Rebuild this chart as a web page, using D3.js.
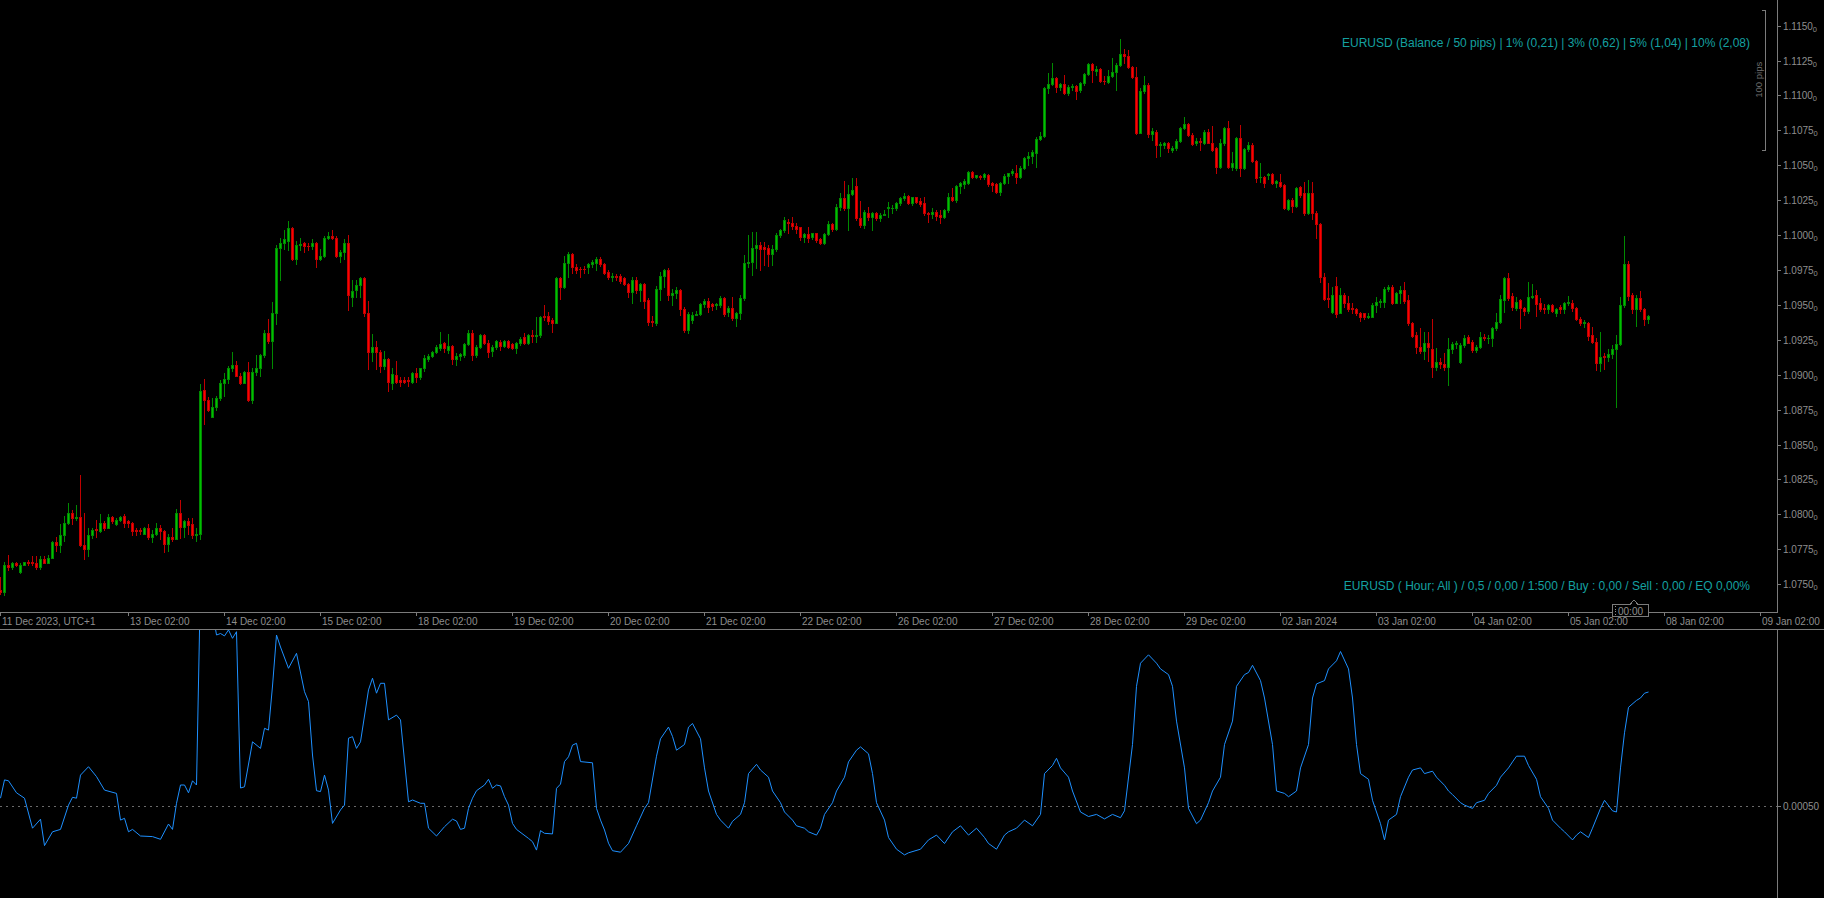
<!DOCTYPE html>
<html><head><meta charset="utf-8">
<script src="https://cdn.jsdelivr.net/npm/d3@7"></script>
<style>
html,body{margin:0;padding:0;background:#000;overflow:hidden}
svg{display:block}
text{font-family:"Liberation Sans",Arial,sans-serif}
</style></head><body>
<svg id="c" width="1824" height="898"></svg>
<script>
// ---------- DATA (EURUSD H1, bar 0 = 11 Dec 2023 18:00) ----------
const opens = [1.0746,1.0744,1.0764,1.0762,1.0765,1.0759,1.0764,1.0766,1.0766,1.0765,1.0762,1.0768,1.0765,1.0769,1.0780,1.0778,1.0785,1.0794,1.0801,1.0797,
1.0798,1.0778,1.0775,1.0785,1.07892,1.0788,1.0794,1.0790,1.0798,1.0793,1.0796,1.0799,1.0795,1.0794,1.0789,1.0789,1.0786,1.0790,1.0784,1.0786,
1.0790,1.0788,1.0779,1.0784,1.0782,1.0801,1.0791,1.0795,1.0793,1.0785,1.0786,1.0889,1.0882,1.0870,1.0877,1.0883,1.0894,1.0897,1.0905,1.0907,
1.0899,1.0894,1.0902,1.0882,1.0902,1.0905,1.0914,1.0930,1.0924,1.0944,1.0991,1.0994,1.0996,1.1005,1.0983,1.0993,1.0994,1.09923,1.0992,1.0994,
1.0983,1.0985,1.0998,1.0999,1.0998,1.0985,1.0988,1.0994,1.0956,1.0961,1.0964,1.0969,1.0944,1.0916,1.0920,1.0916,1.0906,1.0911,1.0894,1.0900,
1.0896,1.0896,1.0896,1.0895,1.0901,1.0898,1.09045,1.09115,1.09134,1.0916,1.0919,1.09225,1.0918,1.09205,1.0911,1.09134,1.09141,1.09217,1.0930,1.0914,
1.09196,1.09282,1.0923,1.09172,1.09196,1.09237,1.09205,1.09241,1.09217,1.09189,1.09225,1.09267,1.09229,1.09282,1.09277,1.09282,1.09418,1.0942,1.0939,1.09373,
1.0969,1.09626,1.09798,1.09865,1.09774,1.09759,1.09759,1.09769,1.0979,1.09803,1.09831,1.09793,1.09736,1.09702,1.0971,1.09709,1.09695,1.09652,1.09595,1.09678,
1.09607,1.09647,1.09535,1.09385,1.09373,1.09611,1.09707,1.0975,1.09569,1.09588,1.09607,1.09468,1.0932,1.0939,1.0943,1.09435,1.09504,1.09528,1.09504,1.0950,
1.0950,1.09552,1.09452,1.09475,1.09404,1.0944,1.09547,1.09798,1.0981,1.0991,1.09929,1.09917,1.0991,1.09865,1.09898,1.10001,1.10036,1.10092,1.10084,1.10065,
1.10056,1.09984,1.10008,1.09984,1.10013,1.0997,1.09941,1.10008,1.1008,1.10044,1.10204,1.10263,1.10192,1.10294,1.10352,1.1012,1.10072,1.1016,1.10132,1.10156,
1.10125,1.10144,1.10192,1.10192,1.10192,1.10227,1.10263,1.10282,1.10227,1.1027,1.10244,1.10227,1.10156,1.10149,1.10168,1.10144,1.10132,1.1018,1.10275,1.1025,
1.10352,1.10366,1.1037,1.10449,1.10418,1.10423,1.10413,1.10428,1.10376,1.10366,1.10311,1.10371,1.10425,1.10442,1.10447,1.10413,1.10483,1.1055,1.10566,1.1059,
1.10686,1.1071,1.11051,1.1108,1.11128,1.11058,1.1108,1.1102,1.11058,1.11068,1.11039,1.11087,1.11154,1.11225,1.11178,1.11187,1.11104,1.11099,1.1114,1.11171,
1.11218,1.11297,1.11283,1.11202,1.1113,1.10733,1.11032,1.11075,1.10724,1.10741,1.10645,1.10645,1.10662,1.1061,1.10621,1.10676,1.10765,1.10793,1.10717,1.10657,
1.10674,1.10662,1.10741,1.10662,1.10621,1.1049,1.10657,1.10765,1.10485,1.1048,1.10693,1.1048,1.10614,1.10645,1.10533,1.10414,1.10414,1.10428,1.10438,1.10371,
1.10383,1.10359,1.10185,1.10251,1.10208,1.10342,1.10299,1.10156,1.10299,1.1016,1.1008,1.09698,1.09547,1.09452,1.09635,1.09444,1.09571,1.09511,1.09475,1.09468,
1.0944,1.09439,1.09411,1.09416,1.09499,1.09523,1.09523,1.09611,1.0963,1.09516,1.09583,1.09607,1.09535,1.09368,1.09284,1.09196,1.09172,1.09229,1.09182,1.09053,
1.09093,1.09077,1.09053,1.09182,1.09218,1.09093,1.09213,1.09273,1.09237,1.09177,1.09196,1.09272,1.09261,1.09261,1.09332,1.0938,1.09535,1.0969,1.09564,1.09475,
1.09535,1.0948,1.09459,1.09559,1.09571,1.09511,1.09475,1.09471,1.09499,1.09444,1.09487,1.09468,1.09516,1.09516,1.09475,1.09397,1.09373,1.09373,1.09284,1.09237,
1.09081,1.09134,1.09129,1.09148,1.09182,1.0922,1.09499,1.09793,1.09571,1.09468,1.09547,1.09468,1.09397];
const highs = [1.0755,1.0766,1.0771,1.0766,1.0766,1.0765,1.0766,1.0767,1.0770,1.0770,1.0770,1.0770,1.0771,1.0781,1.0784,1.0793,1.0799,1.0808,1.0803,1.0807,
1.0828,1.0801,1.0790,1.0790,1.0796,1.0800,1.0795,1.0800,1.0799,1.0797,1.0799,1.0800,1.0796,1.07945,1.0790,1.0790,1.0791,1.0793,1.0789,1.0794,
1.0792,1.0789,1.0786,1.0790,1.0804,1.0810,1.0796,1.0797,1.0797,1.0790,1.0893,1.0897,1.0884,1.0883,1.0885,1.0896,1.0901,1.0906,1.0916,1.0910,
1.0901,1.0903,1.0909,1.0905,1.0914,1.0915,1.0932,1.0940,1.0952,1.0993,1.0998,1.1004,1.1010,1.1006,1.0996,1.0998,1.0995,1.0994,1.0997,1.0995,
1.0990,1.0999,1.1002,1.1004,1.0999,1.0989,1.0997,1.1000,1.0968,1.0968,1.0970,1.0970,1.0953,1.0929,1.0924,1.0918,1.0917,1.0912,1.09045,1.0910,
1.0898,1.0898,1.0898,1.0902,1.09045,1.0905,1.0914,1.09148,1.09172,1.09213,1.09303,1.09237,1.0929,1.09213,1.09153,1.09158,1.09225,1.0932,1.0932,1.09213,
1.0929,1.0929,1.09248,1.09213,1.09248,1.09248,1.09248,1.09248,1.09229,1.09237,1.09272,1.09296,1.09291,1.0932,1.09416,1.0942,1.09499,1.09451,1.09404,1.09702,
1.09697,1.0985,1.09879,1.09874,1.09793,1.09769,1.09779,1.09798,1.09822,1.09845,1.09845,1.09802,1.0975,1.09731,1.09721,1.09721,1.09702,1.09659,1.09697,1.09697,
1.09659,1.09659,1.09547,1.0942,1.09635,1.09738,1.0976,1.09762,1.09611,1.09626,1.09614,1.09487,1.0945,1.0945,1.09459,1.09511,1.0954,1.09547,1.09511,1.09511,
1.09564,1.09559,1.09492,1.09554,1.09452,1.09571,1.09857,1.10001,1.10025,1.10025,1.09953,1.09953,1.09929,1.09929,1.10013,1.10041,1.10127,1.10113,1.10132,1.10084,
1.1006,1.10017,1.10056,1.10017,1.10017,1.09977,1.10017,1.101,1.1009,1.10225,1.10299,1.10387,1.10359,1.10406,1.10406,1.10246,1.1018,1.10203,1.10168,1.10168,
1.1016,1.10179,1.10239,1.10215,1.1024,1.10275,1.10299,1.10287,1.10275,1.10275,1.10263,1.10275,1.10168,1.10192,1.1018,1.1018,1.10185,1.10299,1.10335,1.10359,
1.10383,1.10399,1.10461,1.10461,1.10433,1.10428,1.10447,1.10435,1.10383,1.10371,1.10383,1.10438,1.10447,1.10471,1.10502,1.10495,1.10562,1.10598,1.10609,1.107,
1.10741,1.11058,1.11163,1.1123,1.11135,1.11087,1.11147,1.11075,1.1108,1.11075,1.11099,1.11163,1.1123,1.11235,1.11211,1.11194,1.1114,1.11182,1.11266,1.1123,
1.11402,1.11331,1.11326,1.11211,1.11206,1.11051,1.1114,1.11087,1.10765,1.10753,1.10669,1.10669,1.10669,1.10638,1.10686,1.10777,1.10843,1.108,1.10729,1.10693,
1.10693,1.10753,1.10758,1.10781,1.10633,1.10686,1.10777,1.1082,1.10598,1.10705,1.10788,1.10621,1.10669,1.10657,1.1054,1.10514,1.10423,1.10442,1.10447,1.10395,
1.10438,1.10366,1.10256,1.10263,1.10342,1.10352,1.10383,1.10395,1.10383,1.10175,1.10084,1.09726,1.09655,1.0963,1.09698,1.09619,1.09583,1.09564,1.09511,1.09475,
1.09452,1.09444,1.09444,1.09511,1.09559,1.0954,1.0963,1.09643,1.09643,1.09595,1.09635,1.09666,1.09571,1.0938,1.09308,1.09332,1.09308,1.09308,1.09397,1.09189,
1.09117,1.09153,1.0926,1.09237,1.09244,1.09225,1.09284,1.09284,1.09248,1.09213,1.09308,1.09291,1.09284,1.09344,1.09439,1.09571,1.09702,1.09726,1.09583,1.09559,
1.0954,1.09487,1.09666,1.0965,1.09607,1.09547,1.09506,1.09506,1.09506,1.09475,1.09499,1.09523,1.09564,1.09535,1.09487,1.09416,1.09392,1.0938,1.09339,1.09261,
1.09308,1.09153,1.09182,1.09213,1.09284,1.09559,1.09994,1.09817,1.09583,1.09571,1.09602,1.09475,1.09428];
const lows = [1.0743,1.0742,1.0760,1.0761,1.0763,1.0758,1.0764,1.0764,1.0764,1.0761,1.0761,1.0765,1.0765,1.0769,1.0774,1.0773,1.0781,1.0793,1.0793,1.0796,
1.0777,1.0768,1.0770,1.0783,1.0784,1.0787,1.0789,1.0790,1.0794,1.0792,1.0795,1.0791,1.0791,1.0785,1.0785,1.0786,1.0786,1.0782,1.0780,1.0785,
1.0782,1.0773,1.0774,1.0781,1.0782,1.0783,1.0784,1.0786,1.0783,1.0781,1.0782,1.0865,1.0874,1.0870,1.0875,1.0882,1.0885,1.0894,1.0903,1.0899,
1.0893,1.0894,1.0881,1.0880,1.0900,1.0899,1.0913,1.0923,1.0905,1.0936,1.0968,1.0990,1.0989,1.0982,1.0979,1.0989,1.0988,1.0989,1.0990,1.0977,
1.0982,1.0984,1.0997,1.0997,1.0984,1.0981,1.0983,1.0946,1.0949,1.0956,1.0956,1.0942,1.0904,1.0910,1.0904,1.0902,1.0904,1.08886,1.0890,1.0894,
1.0892,1.0894,1.0892,1.0894,1.0895,1.0897,1.0903,1.0910,1.09129,1.09153,1.09177,1.0916,1.09158,1.0908,1.0907,1.09105,1.09129,1.09213,1.09105,1.0913,
1.0919,1.0922,1.0913,1.09134,1.09184,1.0918,1.09196,1.0919,1.09182,1.09153,1.09213,1.0922,1.0922,1.09237,1.09237,1.09272,1.09392,1.09363,1.09308,1.09368,
1.0954,1.09619,1.09697,1.09726,1.09731,1.09697,1.09726,1.09731,1.09774,1.0975,1.09779,1.09721,1.09683,1.09674,1.09678,1.09659,1.09642,1.09559,1.09511,1.09583,
1.09528,1.09475,1.09356,1.09349,1.09356,1.09535,1.0963,1.09535,1.095,1.09547,1.09428,1.09308,1.09301,1.09373,1.09428,1.09428,1.09483,1.09452,1.09463,1.09468,
1.09487,1.0942,1.0942,1.09392,1.09349,1.09397,1.09535,1.09769,1.09714,1.09762,1.0975,1.09786,1.09779,1.09786,1.09888,1.09989,1.10025,1.10013,1.10041,1.10013,
1.09965,1.09953,1.09953,1.0997,1.09953,1.09936,1.09936,1.10001,1.10032,1.10036,1.1018,1.1018,1.10036,1.10287,1.10108,1.1006,1.10048,1.10108,1.1004,1.10108,
1.10101,1.10144,1.10127,1.1016,1.1018,1.10215,1.10251,1.10223,1.10215,1.10227,1.10208,1.10144,1.10096,1.1012,1.10108,1.10089,1.1012,1.10168,1.10246,1.1024,
1.10299,1.10335,1.10366,1.10406,1.10406,1.10399,1.10399,1.10352,1.10318,1.10299,1.10287,1.10366,1.10371,1.1043,1.10371,1.10406,1.10471,1.10502,1.10514,1.1049,
1.10681,1.10705,1.11015,1.11075,1.11027,1.11039,1.1101,1.11003,1.11039,1.10975,1.11027,1.11075,1.11147,1.11099,1.11147,1.11099,1.11082,1.11087,1.11135,1.11039,
1.11211,1.1123,1.11194,1.11123,1.10724,1.10729,1.11015,1.10705,1.10681,1.10557,1.10566,1.10621,1.10598,1.10598,1.10609,1.10669,1.10758,1.1071,1.10645,1.10645,
1.10609,1.10652,1.10657,1.10605,1.10447,1.10478,1.10645,1.10478,1.10466,1.10466,1.10423,1.10471,1.10605,1.10526,1.10383,1.10383,1.10342,1.10403,1.10366,1.10347,
1.10347,1.10185,1.1018,1.10168,1.10204,1.1027,1.10144,1.10151,1.10113,1.09977,1.09666,1.09535,1.09487,1.09444,1.09416,1.09439,1.09487,1.09459,1.09439,1.09428,
1.09387,1.09397,1.09404,1.09411,1.09452,1.09487,1.09487,1.09602,1.09506,1.09511,1.09511,1.09516,1.09356,1.09272,1.09158,1.09153,1.0911,1.091,1.08981,1.09034,
1.09046,1.09034,1.08926,1.09158,1.09189,1.09086,1.09201,1.09225,1.09165,1.09165,1.09189,1.09248,1.09229,1.09206,1.0932,1.09368,1.09452,1.09535,1.09463,1.09463,
1.09332,1.09428,1.09439,1.09547,1.0942,1.09459,1.0944,1.0944,1.09452,1.09421,1.09439,1.09444,1.095,1.09459,1.09392,1.09356,1.09344,1.09249,1.09225,1.09034,
1.09029,1.09039,1.09101,1.09117,1.08771,1.09213,1.09487,1.09535,1.0944,1.09349,1.09459,1.09356,1.09373];
const closes = [1.0744,1.0764,1.0762,1.0765,1.0764,1.0764,1.0766,1.0765,1.0765,1.0762,1.0768,1.0765,1.0769,1.0780,1.0778,1.0785,1.0794,1.0801,1.0797,1.0798,
1.0778,1.0775,1.0785,1.0789,1.07888,1.0794,1.0790,1.0798,1.0795,1.0796,1.0798,1.0794,1.0794,1.0788,1.0788,1.0788,1.0790,1.0784,1.0786,1.0790,
1.0788,1.0779,1.0784,1.0782,1.0801,1.0791,1.0795,1.0792,1.0785,1.0786,1.0888,1.0882,1.0875,1.0877,1.0883,1.0894,1.0897,1.0905,1.0907,1.0899,
1.0894,1.0902,1.0882,1.0902,1.0905,1.0914,1.0930,1.0924,1.0944,1.0991,1.0994,1.0997,1.1005,1.0983,1.0993,1.09933,1.0992,1.09920,1.0994,1.0983,
1.0985,1.0998,1.0999,1.0998,1.0985,1.0988,1.0994,1.0957,1.0960,1.0964,1.0969,1.0944,1.09165,1.0920,1.0916,1.0906,1.0911,1.08945,1.09005,1.08945,
1.08945,1.0895,1.08955,1.09014,1.0898,1.09045,1.09117,1.09134,1.0916,1.09196,1.0922,1.09189,1.09205,1.0911,1.09134,1.09148,1.09217,1.09296,1.09141,1.09196,
1.09282,1.0923,1.09165,1.09201,1.09244,1.09205,1.09241,1.09201,1.09189,1.09225,1.09258,1.09229,1.09282,1.09277,1.09282,1.09411,1.09412,1.09387,1.09373,1.0969,
1.09626,1.09798,1.09865,1.09774,1.0975,1.09755,1.09755,1.0979,1.0981,1.09831,1.09793,1.09731,1.09702,1.09706,1.09702,1.09674,1.09652,1.09595,1.09678,1.09607,
1.09647,1.0953,1.0938,1.09375,1.09611,1.09707,1.0975,1.09569,1.09588,1.09607,1.09468,1.0932,1.09432,1.0943,1.09435,1.09504,1.09528,1.09487,1.09492,1.09504,
1.09552,1.09435,1.09475,1.09404,1.0944,1.09547,1.09802,1.09809,1.0991,1.09929,1.09898,1.09898,1.09865,1.09898,1.10001,1.10036,1.10108,1.10084,1.10065,1.10044,
1.09984,1.10008,1.09977,1.10013,1.09965,1.09941,1.10008,1.1008,1.10044,1.10204,1.10263,1.10192,1.10294,1.10323,1.1012,1.10072,1.10168,1.10132,1.10156,1.1012,
1.10144,1.10151,1.10198,1.10196,1.10227,1.10263,1.10282,1.10227,1.1027,1.1024,1.1022,1.10156,1.10149,1.10168,1.10139,1.10132,1.1018,1.10275,1.10251,1.10352,
1.10371,1.1039,1.10449,1.10418,1.10428,1.10416,1.10435,1.10366,1.10359,1.10311,1.10371,1.10425,1.10442,1.10459,1.10413,1.10483,1.1055,1.10566,1.10598,1.10688,
1.1071,1.11051,1.1108,1.11128,1.11058,1.1108,1.1102,1.11063,1.11068,1.11034,1.11087,1.11154,1.11223,1.11182,1.11187,1.11106,1.11102,1.1114,1.11171,1.11218,
1.11297,1.11283,1.11202,1.1113,1.10733,1.11032,1.11075,1.10724,1.10748,1.10645,1.10649,1.10657,1.10621,1.10626,1.10676,1.10765,1.10793,1.10717,1.10652,1.10674,
1.10669,1.10741,1.10662,1.10609,1.1049,1.10657,1.10765,1.10485,1.10519,1.10693,1.1048,1.10614,1.10645,1.10533,1.10407,1.10419,1.10371,1.10435,1.10371,1.10388,
1.10352,1.10192,1.10251,1.10208,1.10335,1.10287,1.10156,1.10299,1.10156,1.1008,1.09698,1.0954,1.0954,1.09571,1.09435,1.09571,1.09511,1.09468,1.09468,1.0944,
1.09416,1.09411,1.09421,1.09499,1.09523,1.09529,1.09611,1.0963,1.09516,1.09588,1.09607,1.0953,1.09368,1.09277,1.09196,1.09172,1.09229,1.09196,1.09053,1.09093,
1.09077,1.09053,1.09182,1.0922,1.09225,1.09213,1.09261,1.0923,1.09177,1.09201,1.09268,1.09266,1.09266,1.09332,1.0938,1.0954,1.0969,1.09547,1.09483,1.09523,
1.09475,1.09459,1.09559,1.09564,1.09506,1.09471,1.09468,1.09499,1.09459,1.09468,1.09468,1.09516,1.09521,1.09475,1.09397,1.09368,1.09378,1.09277,1.09237,1.09081,
1.09129,1.09124,1.09148,1.09182,1.0922,1.09499,1.09793,1.09564,1.09468,1.09547,1.09468,1.09397,1.09421];

// lower indicator window: vertices of the blue line as [bar index, value]
const indicatorPoints = [[0,0.000526],[1,0.000587],[2,0.000584],[4,0.000544],[6,0.000526],[8,0.000426],[10,0.000456],[11,0.000368],[13,0.000414],[15,0.000422],
[17,0.000503],[18,0.000529],[19,0.000526],[20,0.000603],[22,0.000631],[24,0.000598],[26,0.000553],[29,0.000542],[30,0.000453],[31,0.000459],
[32,0.000414],[33,0.000422],[35,0.000400],[38,0.000398],[40,0.000389],[42,0.000440],[43,0.000422],[44,0.000509],[45,0.000570],[46,0.000570],
[47,0.000544],[48,0.000584],[49,0.000570],[50,0.001250],[51,0.001260],[52,0.001220],[53,0.001150],[54,0.001070],[55,0.001075],[56,0.001067],
[57,0.001087],[58,0.001059],[59,0.001081],[60,0.000560],[61,0.000564],[63,0.000714],[65,0.000692],[66,0.000759],[67,0.000753],[68,0.000900],
[69,0.001070],[70,0.001030],[72,0.000959],[74,0.001009],[76,0.000881],[77,0.000848],[78,0.000670],[79,0.000551],[80,0.000548],[81,0.000603],
[82,0.000553],[83,0.000442],[85,0.000487],[86,0.000503],[87,0.000726],[88,0.000731],[89,0.000692],[90,0.000714],[92,0.000887],[93,0.000926],
[94,0.000876],[95,0.000909],[96,0.000909],[97,0.000787],[99,0.000803],[100,0.000787],[102,0.000514],[103,0.000520],[105,0.000509],[106,0.000509],
[107,0.000426],[109,0.000400],[111,0.000431],[113,0.000456],[114,0.000450],[115,0.000422],[116,0.000426],[117,0.000492],[118,0.000526],[119,0.000551],
[121,0.000570],[122,0.000589],[123,0.000559],[124,0.000570],[125,0.000567],[126,0.000531],[127,0.000503],[128,0.000442],[129,0.000422],[132,0.000392],
[133,0.000381],[134,0.000353],[135,0.000418],[136,0.000409],[138,0.000407],[139,0.000559],[140,0.000573],[141,0.000648],[142,0.000664],[143,0.000703],
[144,0.000709],[145,0.000648],[148,0.000644],[149,0.000492],[150,0.000453],[151,0.000420],[152,0.000376],[153,0.000351],[155,0.000346],
[157,0.000375],[159,0.000434],[161,0.000492],[162,0.000511],[164,0.000666],[165,0.000724],[167,0.000763],[168,0.000732],[169,0.000686],[171,0.000705],
[172,0.000763],[173,0.000775],[175,0.000724],[176,0.000627],[177,0.000550],[179,0.000472],[180,0.000453],[182,0.000426],[183,0.000449],[185,0.000472],
[186,0.000511],[187,0.000608],[189,0.000639],[190,0.000620],[192,0.000596],[193,0.000550],[195,0.000511],[196,0.000480],[198,0.000453],[199,0.000434],
[201,0.000426],[202,0.000414],[204,0.000403],[205,0.000426],[206,0.000472],[208,0.000511],[209,0.000550],[211,0.000596],[212,0.000647],[214,0.000686],
[215,0.000697],[217,0.000674],[218,0.000608],[219,0.000511],[221,0.000453],[222,0.000395],[224,0.000356],[226,0.000337],[227,0.000344],[230,0.000356],
[232,0.000387],[234,0.000403],[236,0.000375],[238,0.000414],[240,0.000434],[242,0.000403],[244,0.000426],[246,0.000395],[247,0.000375],[249,0.000356],
[251,0.000403],[252,0.000414],[254,0.000426],[256,0.000453],[258,0.000434],[260,0.000472],[261,0.000608],[263,0.000635],[264,0.000659],[265,0.000627],
[267,0.000596],[268,0.000550],[270,0.000480],[272,0.000465],[274,0.000472],[276,0.000457],[278,0.000472],[280,0.000461],[281,0.000484],[283,0.000705],
[284,0.000899],[285,0.000976],[287,0.001004],[289,0.000976],[290,0.000957],[292,0.000938],[293,0.000899],[294,0.000783],[296,0.000627],[297,0.000492],
[299,0.000441],[300,0.000453],[302,0.000511],[303,0.000550],[305,0.000596],[306,0.000705],[308,0.000783],[309,0.000899],[311,0.000938],[312,0.000945],
[313,0.000969],[315,0.000918],[316,0.000860],[318,0.000705],[319,0.000550],[321,0.000542],[322,0.000531],[324,0.000550],[325,0.000627],[327,0.000705],
[328,0.000860],[329,0.000907],[331,0.000918],[332,0.000957],[334,0.000984],[335,0.001015],[337,0.000957],[338,0.000860],[339,0.000705],[340,0.000608],
[342,0.000589],[343,0.000519],[345,0.000441],[346,0.000387],[347,0.000453],[349,0.000472],[350,0.000531],[352,0.000596],[353,0.000620],[355,0.000627],
[356,0.000608],[358,0.000616],[359,0.000596],[361,0.000569],[362,0.000550],[363,0.000538],[365,0.000511],[366,0.000503],[368,0.000492],[369,0.000511],
[371,0.000519],[372,0.000542],[374,0.000569],[375,0.000596],[377,0.000627],[378,0.000647],[379,0.000666],[381,0.000666],[382,0.000635],[384,0.000589],
[385,0.000531],[387,0.000492],[388,0.000453],[390,0.000426],[391,0.000414],[393,0.000387],[394,0.000403],[395,0.000414],[397,0.000395],[398,0.000426],
[400,0.000492],[401,0.000519],[403,0.000484],[404,0.000480],[405,0.000627],[406,0.000744],[407,0.000829],[409,0.000852],[410,0.000860],[411,0.000876],[412,0.000880]];

const priceTicks = [1.0750,1.0775,1.0800,1.0825,1.0850,1.0875,1.0900,1.0925,1.0950,1.0975,1.1000,1.1025,1.1050,1.1075,1.1100,1.1125,1.1150];
const timeTickBars = [0,32,56,80,104,128,152,176,200,224,248,272,296,320,344,368,392,416,440];
const timeTickLabels = ["11 Dec 2023, UTC+1","13 Dec 02:00","14 Dec 02:00","15 Dec 02:00","18 Dec 02:00","19 Dec 02:00","20 Dec 02:00","21 Dec 02:00","22 Dec 02:00","26 Dec 02:00","27 Dec 02:00","28 Dec 02:00","29 Dec 02:00","02 Jan 2024","03 Jan 02:00","04 Jan 02:00","05 Jan 02:00","08 Jan 02:00","09 Jan 02:00"];
const indTicks = [0.00050];
const titleText = "EURUSD (Balance / 50 pips) | 1% (0,21) | 3% (0,62) | 5% (1,04) | 10% (2,08)";
const infoText = "EURUSD ( Hour; All ) / 0,5 / 0,00 / 1:500 / Buy : 0,00 / Sell : 0,00 / EQ 0,00%";

// ---------- LAYOUT ----------
const AXIS_X = 1777;
const TOP_BOTTOM = 612;
const LOW_TOP = 629;
const H = 898;
const GRID = "#7b7b7b", TXT = "#8e8e8e", TEAL = "#14a0a0";
const BULL_EDGE = "#008a00", BULL_FILL = "#00c000", BEAR_EDGE = "#c00000", BEAR_FILL = "#ff0000";

const svg = d3.select("#c");
svg.append("rect").attr("width",1824).attr("height",898).attr("fill","#000");
const defs = svg.append("defs");
defs.append("clipPath").attr("id","clipTop").append("rect").attr("x",0).attr("y",0).attr("width",AXIS_X).attr("height",TOP_BOTTOM);
defs.append("clipPath").attr("id","clipLow").append("rect").attr("x",0).attr("y",LOW_TOP+1).attr("width",AXIS_X).attr("height",H-LOW_TOP-1);

const x = d3.scaleLinear().domain([0,440]).range([0.5,1760.5]);
const y = d3.scaleLinear().domain([1.0750,1.1150]).range([584.1,25.7]);
const yi = d3.scaleLinear().domain([0.0005,0.0006]).range([806,776]);

// ---------- CANDLES ----------
const bars = opens.map((o,i)=>({i,o,h:highs[i],l:lows[i],c:closes[i]}));
const cg = svg.append("g").attr("clip-path","url(#clipTop)").attr("shape-rendering","crispEdges");
const bg = cg.selectAll("g").data(bars).join("g");
bg.each(function(d){
  const g = d3.select(this);
  const up = d.c >= d.o;
  const edge = up ? BULL_EDGE : BEAR_EDGE, fill = up ? BULL_FILL : BEAR_FILL;
  const cx = Math.floor(x(d.i));
  const yh = Math.round(y(d.h)), yl = Math.round(y(d.l));
  g.append("rect").attr("x",cx).attr("y",yh).attr("width",1).attr("height",Math.max(1,yl-yh+1)).attr("fill",edge);
  const yt = Math.round(y(Math.max(d.o,d.c))), yb = Math.round(y(Math.min(d.o,d.c)));
  const bh = Math.max(1,yb-yt+1);
  g.append("rect").attr("x",cx-1).attr("y",yt).attr("width",3).attr("height",bh).attr("fill",edge);
  if (bh>2) g.append("rect").attr("x",cx).attr("y",yt+1).attr("width",1).attr("height",bh-2).attr("fill",fill);
});

// ---------- FRAME / AXES ----------
const fr = svg.append("g").attr("shape-rendering","crispEdges").attr("stroke",GRID).attr("fill","none");
fr.append("line").attr("x1",AXIS_X+0.5).attr("x2",AXIS_X+0.5).attr("y1",0).attr("y2",TOP_BOTTOM+0.5);
fr.append("line").attr("x1",0).attr("x2",AXIS_X+0.5).attr("y1",TOP_BOTTOM+0.5).attr("y2",TOP_BOTTOM+0.5);
fr.append("line").attr("x1",0).attr("x2",1824).attr("y1",LOW_TOP+0.5).attr("y2",LOW_TOP+0.5);
fr.append("line").attr("x1",AXIS_X+0.5).attr("x2",AXIS_X+0.5).attr("y1",LOW_TOP).attr("y2",H);

// price axis
const pa = svg.append("g");
priceTicks.forEach(p=>{
  const yy = Math.round(y(p));
  pa.append("rect").attr("x",AXIS_X+1).attr("y",yy).attr("width",3).attr("height",1).attr("fill",GRID);
  const t = pa.append("text").attr("x",AXIS_X+6).attr("y",yy+4).attr("fill",TXT).attr("font-size","10px");
  t.append("tspan").text(p.toFixed(4));
  t.append("tspan").attr("font-size","7.5px").attr("dy",2).text("0");
});

// time axis
const ta = svg.append("g");
timeTickBars.forEach((b,k)=>{
  const xx = Math.floor(x(b));
  ta.append("rect").attr("x",xx).attr("y",TOP_BOTTOM+1).attr("width",1).attr("height",3).attr("fill",GRID);
  ta.append("text").attr("x",xx+2).attr("y",TOP_BOTTOM+13).attr("fill",TXT).attr("font-size","10px").text(timeTickLabels[k]);
});

// time marker box "00:00"
const mk = svg.append("g").attr("shape-rendering","crispEdges");
mk.append("path").attr("d","M1612.5,604.5 H1630 L1634,600 L1638,604.5 H1648.5 V616.5 H1612.5 Z").attr("fill","#000").attr("stroke",GRID);
for (let k=0;k<4;k++) mk.append("rect").attr("x",1615).attr("y",606+k*2.5).attr("width",1).attr("height",1).attr("fill",TXT);
mk.append("text").attr("x",1618).attr("y",614.5).attr("fill",TXT).attr("font-size","10px").text("00:00");

// 100 pips bracket
const br = svg.append("g").attr("shape-rendering","crispEdges");
const bTop = 10, bBot = bTop + (y(1.1000) - y(1.1100));
br.append("path").attr("d",`M1761.5,${bTop+0.5} H1765.5 V${bBot+0.5} H1761.5`).attr("fill","none").attr("stroke",GRID);
br.append("text").attr("transform",`translate(1762,${(bTop+bBot)/2}) rotate(-90)`).attr("text-anchor","middle")
  .attr("fill","#6e6e6e").attr("font-size","9.5px").text("100 pips");

// texts
svg.append("text").attr("x",1750).attr("y",47).attr("text-anchor","end").attr("fill",TEAL).attr("font-size","12px").text(titleText);
svg.append("text").attr("x",1750).attr("y",590).attr("text-anchor","end").attr("fill",TEAL).attr("font-size","12px").text(infoText);

// ---------- INDICATOR ----------
indTicks.forEach(v=>{
  const yy = Math.round(yi(v));
  svg.append("line").attr("x1",0).attr("x2",AXIS_X).attr("y1",yy+0.5).attr("y2",yy+0.5)
    .attr("stroke","#6a6a6a").attr("stroke-dasharray","2,4").attr("shape-rendering","crispEdges");
  svg.append("rect").attr("x",AXIS_X+1).attr("y",yy).attr("width",3).attr("height",1).attr("fill",GRID);
  svg.append("text").attr("x",AXIS_X+6).attr("y",yy+4).attr("fill",TXT).attr("font-size","10px").text(v.toFixed(5));
});
const line = d3.line().x(d=>x(d[0])).y(d=>yi(d[1]));
svg.append("path").attr("clip-path","url(#clipLow)").attr("d",line(indicatorPoints))
  .attr("fill","none").attr("stroke","#1e90ff").attr("stroke-width",1);
</script>
</body></html>
